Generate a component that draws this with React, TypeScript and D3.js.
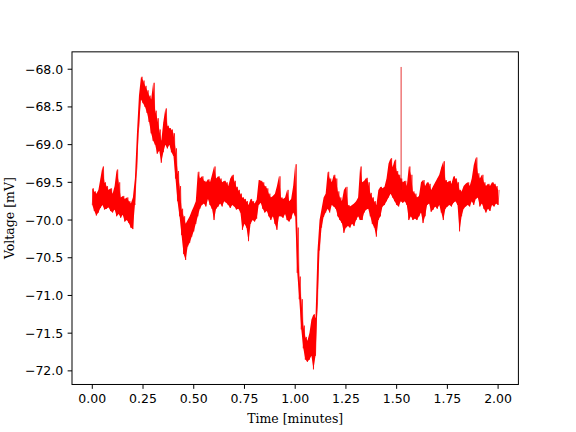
import React from "react";
import * as d3 from "d3";

// Sampled every 0.01 minute from 0.00 to 2.00: lower and upper edge of the noisy trace (mV)
const lowEnvelope: number[] = [
  -69.80, -69.88, -69.94, -69.90, -69.84, -69.80, -69.86, -69.85, -69.83, -69.88,
  -69.90, -69.86, -69.95, -69.92, -69.97, -69.93, -70.02, -70.00, -70.04, -70.10,
  -70.12, -69.80, -69.30, -68.75, -68.40, -68.45, -68.50, -68.58, -68.70, -68.85,
  -68.95, -69.00, -69.12, -69.08, -69.24, -69.10, -69.00, -69.05, -69.00, -69.10,
  -69.15, -69.45, -69.75, -69.95, -70.20, -70.45, -70.53, -70.35, -70.30, -70.22,
  -70.15, -70.05, -69.95, -69.85, -69.80, -69.78, -69.82, -69.72, -69.80, -69.85,
  -70.00, -69.85, -69.82, -69.78, -69.82, -69.75, -69.77, -69.80, -69.84, -69.80,
  -69.82, -69.86, -69.85, -69.90, -70.13, -70.05, -70.10, -70.28, -70.05, -70.00,
  -70.02, -69.98, -69.80, -69.77, -69.85, -69.90, -69.88, -69.95, -70.00, -69.95,
  -70.05, -70.13, -69.95, -69.95, -69.97, -69.92, -70.00, -70.02, -69.98, -69.90,
  -69.95, -70.70, -71.05, -71.45, -71.70, -71.85, -71.88, -71.85, -71.80, -71.98,
  -71.80, -71.10, -70.40, -70.10, -69.96, -69.90, -69.85, -69.90, -69.80, -69.82,
  -69.85, -69.95, -70.00, -70.04, -70.17, -70.10, -70.08, -70.10, -70.05, -70.08,
  -70.00, -69.95, -70.00, -70.00, -69.90, -69.86, -69.85, -69.95, -70.05, -70.10,
  -70.22, -70.00, -69.95, -69.82, -69.80, -69.75, -69.70, -69.65, -69.70, -69.75,
  -69.80, -69.82, -69.75, -69.77, -69.75, -69.80, -70.00, -69.95, -70.00, -69.98,
  -70.00, -69.95, -69.90, -70.04, -69.95, -69.80, -69.78, -69.89, -69.86, -69.82,
  -69.85, -69.80, -69.90, -70.00, -69.85, -69.82, -69.80, -69.82, -69.77, -69.75,
  -69.80, -70.15, -69.95, -69.85, -69.82, -69.80, -69.82, -69.75, -69.80, -69.72,
  -69.70, -69.82, -69.78, -69.85, -69.90, -69.85, -69.88, -69.80, -69.82, -69.78,
  -69.80,
];

const highEnvelope: number[] = [
  -69.58, -69.62, -69.65, -69.60, -69.45, -69.29, -69.50, -69.55, -69.60, -69.58,
  -69.65, -69.55, -69.33, -69.50, -69.70, -69.68, -69.72, -69.70, -69.75, -69.78,
  -69.70, -69.45, -68.85, -68.35, -68.10, -68.15, -68.22, -68.28, -68.35, -68.40,
  -68.18, -68.55, -68.65, -68.80, -68.95, -68.70, -68.52, -68.75, -68.78, -68.80,
  -68.85, -69.05, -69.35, -69.55, -69.85, -69.95, -70.05, -70.00, -69.95, -69.88,
  -69.82, -69.75, -69.36, -69.45, -69.42, -69.48, -69.50, -69.46, -69.50, -69.40,
  -69.29, -69.45, -69.42, -69.45, -69.50, -69.48, -69.50, -69.55, -69.45, -69.40,
  -69.48, -69.56, -69.60, -69.65, -69.70, -69.72, -69.75, -69.80, -69.72, -69.75,
  -69.78, -69.73, -69.47, -69.48, -69.50, -69.55, -69.58, -69.65, -69.70, -69.68,
  -69.65, -69.55, -69.42, -69.70, -69.72, -69.70, -69.60, -69.75, -69.72, -69.55,
  -69.26, -70.10, -70.75, -71.05, -71.40, -71.55, -71.60, -71.50, -71.32, -71.25,
  -71.30, -70.40, -70.00, -69.85, -69.70, -69.65, -69.36, -69.45, -69.50, -69.40,
  -69.45, -69.62, -69.70, -69.75, -69.60, -69.56, -69.80, -69.82, -69.80, -69.78,
  -69.75, -69.70, -69.29, -69.50, -69.48, -69.44, -69.50, -69.64, -69.70, -69.75,
  -69.80, -69.60, -69.56, -69.58, -69.56, -69.45, -69.25, -69.18, -69.30, -69.20,
  -69.35, -69.40, -69.45, -69.50, -69.48, -69.55, -69.29, -69.40, -69.62, -69.65,
  -69.70, -69.68, -69.50, -69.47, -69.55, -69.50, -69.52, -69.60, -69.55, -69.50,
  -69.45, -69.40, -69.30, -69.22, -69.47, -69.50, -69.48, -69.52, -69.42, -69.45,
  -69.50, -69.60, -69.62, -69.55, -69.52, -69.50, -69.55, -69.45, -69.27, -69.17,
  -69.38, -69.45, -69.40, -69.50, -69.55, -69.52, -69.55, -69.50, -69.52, -69.55,
  -69.60,
];

// Isolated one-sample spike
const spikeTimes: number[] = [1.522];
const spikeValues: number[] = [-67.97];

const sampleStep = 0.01; // minutes between samples

const xTicks: number[] = [0, 0.25, 0.5, 0.75, 1.0, 1.25, 1.5, 1.75, 2.0];
const yTicks: number[] = [-68.0, -68.5, -69.0, -69.5, -70.0, -70.5, -71.0, -71.5, -72.0];

const xLabel = "Time [minutes]";
const yLabel = "Voltage [mV]";

const W = 576;
const H = 432;
const left = 72;
const right = 518.4;
const top = 51.84;
const bottom = 384.48;
const pt = 1.25; // px per point
const fs = 10 * pt;

type Row = { t: number; lo: number; hi: number };

export default function App() {
  const rows: Row[] = lowEnvelope.map((lo, i) => ({ t: i * sampleStep, lo, hi: highEnvelope[i] }));

  // zigzag trace (time, value)
  const pts: [number, number][] = [];
  rows.forEach((r) => {
    pts.push([r.t, r.lo]);
    pts.push([r.t + sampleStep / 2, r.hi]);
  });

  const allT = [...rows.map((r) => r.t), ...spikeTimes];
  const allV = [...lowEnvelope, ...highEnvelope, ...spikeValues];
  const tMin = d3.min(allT)!;
  const tMax = d3.max(allT)!;
  const vMin = d3.min(allV)!;
  const vMax = d3.max(allV)!;
  const tPad = (tMax - tMin) * 0.05;
  const vPad = (vMax - vMin) * 0.05;

  const x = d3.scaleLinear().domain([tMin - tPad, tMax + tPad]).range([left, right]);
  const y = d3.scaleLinear().domain([vMin - vPad, vMax + vPad]).range([bottom, top]);

  const line = d3
    .line<[number, number]>()
    .x((d) => x(d[0]))
    .y((d) => y(d[1]));

  const area = d3
    .area<Row>()
    .x((d) => x(d.t))
    .y0((d) => y(d.lo))
    .y1((d) => y(d.hi));

  const spikeBase = (st: number) => {
    const i = Math.round(st / sampleStep);
    return (lowEnvelope[i] + highEnvelope[i]) / 2;
  };

  const fmtY = (v: number) => d3.format(".1f")(v).replace("-", "\u2212");
  const fmtX = (v: number) => d3.format(".2f")(v);

  const tickFont = "'DejaVu Sans', sans-serif";
  const labelFont = "'DejaVu Serif', serif";
  const tickLen = 3.5 * pt;
  const tickPad = 3.5 * pt;

  return (
    <svg
      width={W}
      height={H}
      viewBox={`0 0 ${W} ${H}`}
      style={{ position: "absolute", left: 0, top: 0, display: "block", background: "#fff" }}
    >
      <rect x={0} y={0} width={W} height={H} fill="#fff" />
      <defs>
        <clipPath id="plotclip">
          <rect x={left} y={top} width={right - left} height={bottom - top} />
        </clipPath>
      </defs>
      <g clipPath="url(#plotclip)">
        <path d={area(rows) ?? ""} fill="#ff0000" stroke="none" />
        <path d={line(pts) ?? ""} fill="none" stroke="#ff0000" strokeWidth={0.7} />
        {spikeTimes.map((st, k) => (
          <line
            key={`sp${k}`}
            x1={x(st)}
            x2={x(st)}
            y1={y(spikeBase(st))}
            y2={y(spikeValues[k])}
            stroke="#e00000"
            strokeWidth={0.8}
          />
        ))}
      </g>
      <rect
        x={left}
        y={top}
        width={right - left}
        height={bottom - top}
        fill="none"
        stroke="#000"
        strokeWidth={0.8 * pt}
      />
      {xTicks.map((t) => (
        <g key={`xt${t}`}>
          <line x1={x(t)} x2={x(t)} y1={bottom} y2={bottom + tickLen} stroke="#000" strokeWidth={0.8 * pt} />
          <text
            x={x(t)}
            y={bottom + tickLen + tickPad + 9.3}
            textAnchor="middle"
            fontFamily={tickFont}
            fontSize={fs}
            fill="#000"
          >
            {fmtX(t)}
          </text>
        </g>
      ))}
      {yTicks.map((v) => (
        <g key={`yt${v}`}>
          <line x1={left - tickLen} x2={left} y1={y(v)} y2={y(v)} stroke="#000" strokeWidth={0.8 * pt} />
          <text
            x={left - tickLen - tickPad}
            y={y(v) + 4.5}
            textAnchor="end"
            fontFamily={tickFont}
            fontSize={fs}
            fill="#000"
          >
            {fmtY(v)}
          </text>
        </g>
      ))}
      <text
        x={(left + right) / 2}
        y={423}
        textAnchor="middle"
        fontFamily={labelFont}
        fontSize={fs}
        fill="#000"
      >
        {xLabel}
      </text>
      <text
        transform={`translate(13.5,${(top + bottom) / 2}) rotate(-90)`}
        textAnchor="middle"
        fontFamily={labelFont}
        fontSize={fs}
        fill="#000"
      >
        {yLabel}
      </text>
    </svg>
  );
}
